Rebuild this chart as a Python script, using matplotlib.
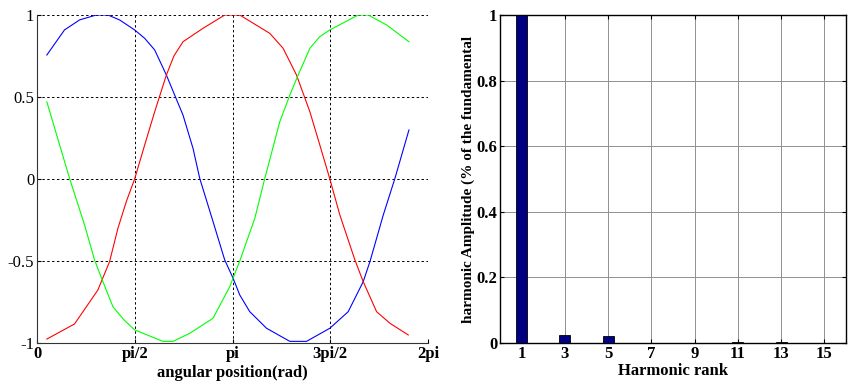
import matplotlib
import numpy as np

matplotlib.use("Agg")
import matplotlib.pyplot as plt  # noqa: E402

plt.rcParams["font.family"] = ["Liberation Serif", "DejaVu Serif"]

# phase waveforms (angle in rad, value)
blue_angle = [0.158, 0.442, 0.684, 0.952, 1.139, 1.327, 1.569, 1.730, 1.891, 2.079,
              2.212, 2.346, 2.507, 2.615, 2.829, 3.017, 3.151, 3.258, 3.419, 3.688,
              4.063, 4.331, 4.706, 5.001, 5.242, 5.350, 5.564, 5.752, 5.977]
blue_value = [0.756, 0.909, 0.970, 1.0, 1.0, 0.970, 0.909, 0.858, 0.787, 0.634,
              0.512, 0.390, 0.187, 0.004, -0.26, -0.494, -0.605, -0.707, -0.809, -0.910,
              -0.99, -0.99, -0.910, -0.809, -0.626, -0.504, -0.22, 0.004, 0.299]

red_angle = [0.158, 0.603, 0.978, 1.166, 1.300, 1.435, 1.569, 1.730, 1.891, 2.079,
             2.200, 2.346, 2.668, 3.017, 3.258, 3.741, 3.955, 4.170, 4.385, 4.545, 4.706,
             4.867, 5.109, 5.242, 5.457, 5.672, 5.966]
red_value = [-0.976, -0.884, -0.677, -0.504, -0.301, -0.138, 0.0, 0.207, 0.41, 0.634,
             0.75, 0.837, 0.919, 1.0, 1.0, 0.888, 0.797, 0.634, 0.41, 0.207, 0.0,
             -0.22, -0.494, -0.626, -0.809, -0.880, -0.951]

green_angle = [0.158, 0.523, 0.764, 0.925, 1.049, 1.220, 1.400, 1.569, 2.024, 2.185, 2.454,
               2.829, 3.097, 3.258, 3.500, 3.661, 3.902, 4.063, 4.197, 4.385, 4.545,
               4.706, 5.162, 5.323, 5.619, 5.977]
green_value = [0.471, 0.004, -0.28, -0.494, -0.616, -0.779, -0.86, -0.92, -0.99, -0.99, -0.941,
               -0.849, -0.657, -0.5, -0.24, 0.004, 0.35, 0.512, 0.634, 0.797, 0.868,
               0.909, 1.0, 1.0, 0.939, 0.837]

angle_ticks = [0, np.pi / 2, np.pi, 3 * np.pi / 2, 2 * np.pi]
angle_tick_labels = ["0", "pi/2", "pi", "3pi/2", "2pi"]

# harmonic spectrum (right panel)
harmonic_rank = [1, 3, 5, 7, 9, 11, 13, 15]
harmonic_amplitude = [1.0, 0.025, 0.021, 0.0, 0.001, 0.004, 0.004, 0.001]


def main() -> None:
    fig = plt.figure(figsize=(8.49, 3.85), dpi=100)

    ax = fig.add_axes([37 / 849, 42 / 385, 391 / 849, 328 / 385])
    ax.plot(blue_angle, blue_value, color="#0000ff", linewidth=0.8)
    ax.plot(red_angle, red_value, color="#ff0000", linewidth=0.8)
    ax.plot(green_angle, green_value, color="#00ff00", linewidth=0.8)
    ax.set_xlim(0, 2 * np.pi)
    ax.set_ylim(-1, 1)
    ax.set_xticks(angle_ticks)
    ax.set_xticklabels(angle_tick_labels, fontweight="bold", fontsize=12)
    ax.set_yticks([-1, -0.5, 0, 0.5, 1])
    ax.set_yticklabels(["-1", "-0.5", "0", "0.5", "1"], fontsize=12)
    ax.tick_params(direction="in", length=3, pad=2)
    ax.grid(True, color="black", linestyle=(0, (2.5, 2.5)), linewidth=0.7)
    for side in ("top", "right"):
        ax.spines[side].set_visible(False)
    for side in ("left", "bottom"):
        ax.spines[side].set_color("#333333")
    ax.set_xlabel("angular position(rad)", fontweight="bold", fontsize=12, labelpad=2)

    bx = fig.add_axes([500 / 849, 42 / 385, 346 / 849, 328 / 385])
    bx.bar(harmonic_rank, harmonic_amplitude, width=0.5, color="#000080",
           edgecolor="black", linewidth=0.6, zorder=3)
    bx.set_xlim(0, 16)
    bx.set_ylim(0, 1)
    bx.set_xticks(harmonic_rank)
    bx.set_xticklabels([str(r) for r in harmonic_rank], fontweight="bold", fontsize=12)
    bx.set_yticks([0, 0.2, 0.4, 0.6, 0.8, 1])
    bx.set_yticklabels(["0", "0.2", "0.4", "0.6", "0.8", "1"], fontweight="bold", fontsize=12)
    bx.tick_params(direction="in", length=3, pad=2, top=True, right=True)
    bx.grid(True, color="#909090", linestyle="-", linewidth=0.7, zorder=0)
    bx.set_axisbelow(True)
    for spine in bx.spines.values():
        spine.set_linewidth(1.0)
    bx.set_xlabel("Harmonic rank", fontweight="bold", fontsize=12, labelpad=1)
    bx.set_ylabel("harmonic Amplitude (% of the fundamental", fontweight="bold",
                  fontsize=11, labelpad=1)

    fig.savefig("out.png", dpi=100)
    plt.close(fig)


if __name__ == "__main__":
    main()
